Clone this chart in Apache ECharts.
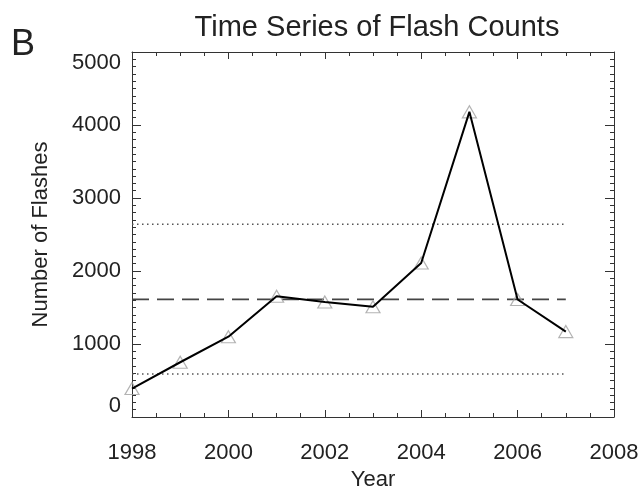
<!DOCTYPE html>
<html>
<head>
<meta charset="utf-8">
<script src="https://cdn.jsdelivr.net/npm/echarts@6/dist/echarts.min.js"></script>
<style>html,body{margin:0;padding:0;background:#fff;}#c{width:642px;height:496px;}</style>
</head>
<body>
<div id="c"></div>
<script>
var years = [1998, 1999, 2000, 2001, 2002, 2003, 2004, 2005, 2006, 2007];
var flashes = [390, 750, 1100, 1655, 1575, 1510, 2110, 4180, 1610, 1170];
var meanValue = 1612;
var upperValue = 2642;
var lowerValue = 590;
var xTicks = [1998, 2000, 2002, 2004, 2006, 2008];
var yTicks = [0, 1000, 2000, 3000, 4000, 5000];

var FONT = 'Liberation Sans, Arial, Helvetica, sans-serif';
var AX = '#333';

function hline(v) {
  return [[years[0], v], [years[years.length - 1], v]];
}

var chart = echarts.init(document.getElementById('c'), null, {renderer: 'canvas'});

var xBase = {
  type: 'value',
  min: xTicks[0],
  max: xTicks[xTicks.length - 1],
  interval: xTicks[1] - xTicks[0],
  axisLine: {show: true, onZero: false, lineStyle: {color: AX, width: 1}},
  axisTick: {show: true, inside: true, length: 7, lineStyle: {color: AX}},
  minorTick: {show: true, splitNumber: 4, length: 4, lineStyle: {color: AX}},
  splitLine: {show: false},
  minorSplitLine: {show: false}
};
var yBase = {
  type: 'value',
  min: yTicks[0],
  max: yTicks[yTicks.length - 1],
  interval: yTicks[1] - yTicks[0],
  axisLine: {show: true, onZero: false, lineStyle: {color: AX, width: 1}},
  axisTick: {show: true, inside: true, length: 9, lineStyle: {color: AX}},
  minorTick: {show: true, splitNumber: 10, length: 4, lineStyle: {color: AX}},
  splitLine: {show: false},
  minorSplitLine: {show: false}
};

var option = {
  backgroundColor: '#fff',
  animation: false,
  title: [
    {text: 'Time Series of Flash Counts', left: 372, top: 8, textAlign: 'center',
     textStyle: {fontFamily: FONT, fontSize: 29, fontWeight: 'normal', color: '#222'}},
    {text: 'B', left: 6, top: 22,
     textStyle: {fontFamily: FONT, fontSize: 36, fontWeight: 'normal', color: '#222'}}
  ],
  grid: {left: 132, right: 28, top: 52, bottom: 79, containLabel: false},
  xAxis: [
    Object.assign({}, xBase, {
      position: 'bottom',
      name: 'Year', nameLocation: 'middle', nameGap: 50,
      nameTextStyle: {fontFamily: FONT, fontSize: 22, color: '#222'},
      axisLabel: {show: true, margin: 25, fontFamily: FONT, fontSize: 22, color: '#222',
                  formatter: function (v) { return String(v); }}
    }),
    Object.assign({}, xBase, {position: 'top', axisLabel: {show: false}})
  ],
  yAxis: [
    Object.assign({}, yBase, {
      position: 'left',
      name: 'Number of Flashes', nameLocation: 'middle', nameGap: 80, nameRotate: 90,
      nameTextStyle: {fontFamily: FONT, fontSize: 22, color: '#222'},
      axisLabel: {show: true, margin: 11, fontFamily: FONT, fontSize: 22, color: '#222',
                  formatter: function (v) { return String(v); },
                  verticalAlignMaxLabel: 'top', verticalAlignMinLabel: 'bottom'}
    }),
    Object.assign({}, yBase, {position: 'right', axisLabel: {show: false}})
  ],
  series: [
    {
      type: 'line', data: hline(upperValue), symbol: 'none', z: 2,
      lineStyle: {color: '#555', width: 1.5, type: [1.5, 3.5]}
    },
    {
      type: 'line', data: hline(lowerValue), symbol: 'none', z: 2,
      lineStyle: {color: '#555', width: 1.5, type: [1.5, 3.5]}
    },
    {
      type: 'line', data: hline(meanValue), symbol: 'none', z: 2,
      lineStyle: {color: '#444', width: 1.8, type: [17, 8]}
    },
    {
      type: 'scatter', z: 3,
      data: years.map(function (y, i) { return [y, flashes[i]]; }),
      symbol: 'triangle', symbolSize: [14, 12],
      itemStyle: {color: 'rgba(255,255,255,0)', borderColor: '#a0a0a0', borderWidth: 1.2}
    },
    {
      type: 'line', z: 4,
      data: years.map(function (y, i) { return [y, flashes[i]]; }),
      symbol: 'none',
      lineStyle: {color: '#000', width: 2}
    }
  ]
};
chart.setOption(option);
</script>
</body>
</html>
